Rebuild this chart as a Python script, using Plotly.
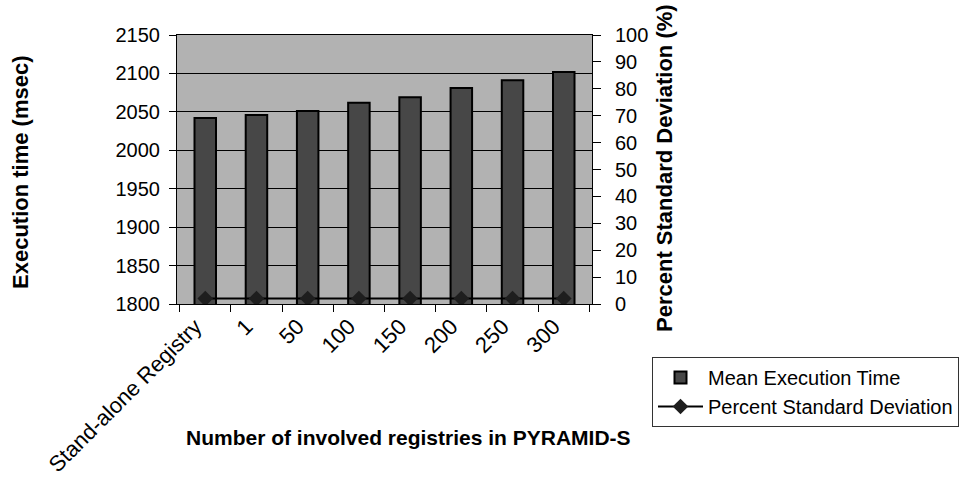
import plotly.graph_objects as go

categories = ["Stand-alone Registry", "1", "50", "100", "150", "200", "250", "300"]
mean_exec_time = [2042, 2046, 2051, 2062, 2069, 2081, 2091, 2102]
pct_std_dev = [2.0, 2.0, 2.0, 2.0, 2.0, 2.0, 2.0, 2.0]

FONT = "Liberation Sans, Arial, sans-serif"

fig = go.Figure()
fig.add_trace(go.Bar(
    x=categories, y=mean_exec_time, name="Mean Execution Time",
    width=0.42,
    marker=dict(color="#474747", line=dict(color="#000000", width=2)),
    yaxis="y",
))
fig.add_trace(go.Scatter(
    x=categories, y=pct_std_dev, name="Percent Standard Deviation",
    mode="lines+markers", yaxis="y2",
    line=dict(color="#000000", width=2),
    marker=dict(symbol="diamond", size=12, color="#1e1e1e"),
))

fig.update_layout(
    width=970, height=483,
    margin=dict(l=177, r=378, t=35, b=179, pad=0, autoexpand=False),
    paper_bgcolor="white", plot_bgcolor="#b2b2b2",
    font=dict(family=FONT, size=20, color="black"),
    showlegend=True,
    legend=dict(
        x=(652 - 177) / 415, y=(304 - 357) / 269, xanchor="left", yanchor="top",
        bgcolor="white", bordercolor="#333333", borderwidth=1,
        font=dict(family=FONT, size=20, color="black"),
        traceorder="normal", itemwidth=45, tracegroupgap=4,
    ),
    xaxis=dict(
        type="category", tickson="boundaries", ticks="outside", ticklen=7,
        tickcolor="black", tickangle=-45, showgrid=False,
        showline=True, linecolor="black", linewidth=1, mirror=True,
        tickfont=dict(family=FONT, size=22),
        ticklabelshift=-10, ticklabelstandoff=0,
    ),
    yaxis=dict(
        range=[1800, 2150], dtick=50, ticks="outside", ticklen=7,
        tickcolor="black", showgrid=True, gridcolor="black", gridwidth=1,
        showline=True, linecolor="black", linewidth=1, zeroline=False,
        tickfont=dict(family=FONT, size=20), ticklabelstandoff=5,
    ),
    yaxis2=dict(
        range=[0, 100], dtick=10, overlaying="y", side="right",
        ticks="outside", ticklen=8, tickcolor="black", showgrid=False,
        showline=True, linecolor="black", linewidth=1, zeroline=False,
        tickfont=dict(family=FONT, size=20), ticklabelstandoff=10,
    ),
)

title_font = dict(family=FONT, size=22, color="black", weight="bold")
fig.add_annotation(text="Execution time (msec)", xref="paper", yref="paper",
                   x=(20 - 177) / 415, y=(304 - 172) / 269, textangle=-90,
                   showarrow=False, xanchor="center", yanchor="middle", font=title_font)
fig.add_annotation(text="Percent Standard Deviation (%)", xref="paper", yref="paper",
                   x=(664 - 177) / 415, y=(304 - 168) / 269, textangle=-90,
                   showarrow=False, xanchor="center", yanchor="middle", font=title_font)
fig.add_annotation(text="Number of involved registries in PYRAMID-S", xref="paper", yref="paper",
                   x=(408 - 177) / 415, y=(304 - 437) / 269,
                   showarrow=False, xanchor="center", yanchor="middle",
                   font=dict(family=FONT, size=21, color="black", weight="bold"))

fig.write_html("out.html")
